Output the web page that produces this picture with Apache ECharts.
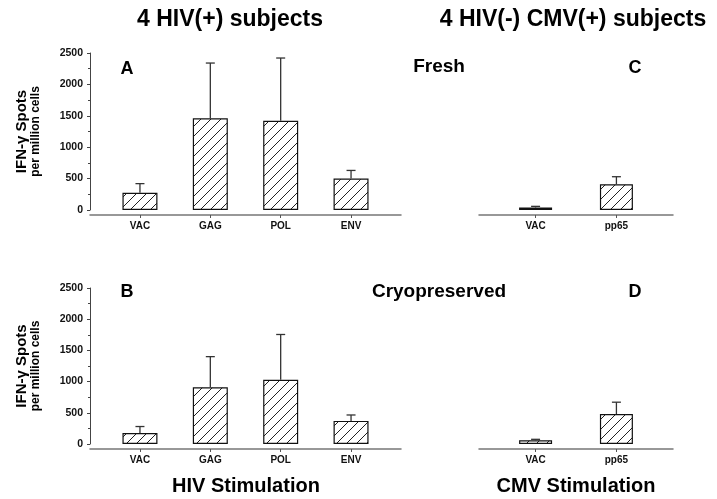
<!DOCTYPE html>
<html>
<head>
<meta charset="utf-8">
<script src="https://cdn.jsdelivr.net/npm/echarts@6/dist/echarts.min.js"></script>
<style>
  html, body { margin: 0; padding: 0; background: #fff; }
  #chart { width: 717px; height: 499px; }
</style>
</head>
<body>
<div id="chart"></div>
<script>
const FONT = '"Liberation Sans", Arial, sans-serif';

const hivCats = ['VAC', 'GAG', 'POL', 'ENV'];
const cmvCats = ['VAC', 'pp65'];
const yTicks = [0, 500, 1000, 1500, 2000, 2500];

// fresh (A, C)
const hivFresh = [275, 1460, 1420, 500];
const hivFreshErr = [420, 2340, 2420, 630];
const cmvFresh = [40, 410];
const cmvFreshErr = [58, 530];

// cryopreserved (B, D)
const hivCryo = [175, 910, 1030, 370];
const hivCryoErr = [280, 1400, 1755, 465];
const cmvCryo = [60, 480];
const cmvCryoErr = [75, 670];

const chart = echarts.init(document.getElementById('chart'));

// diagonal hatch for the bars
function hatch() {
  const c = document.createElement('canvas');
  c.width = 10; c.height = 10;
  const ctx = c.getContext('2d');
  ctx.fillStyle = '#fff';
  ctx.fillRect(0, 0, 10, 10);
  ctx.strokeStyle = '#222';
  ctx.lineWidth = 1;
  ctx.beginPath();
  ctx.moveTo(0, 10); ctx.lineTo(10, 0);
  ctx.moveTo(-1, 1); ctx.lineTo(1, -1);
  ctx.moveTo(9, 11); ctx.lineTo(11, 9);
  ctx.stroke();
  return { image: c, repeat: 'repeat' };
}
const pattern = hatch();

function xAxisFor(gridIndex, cats, pad) {
  const idx = cats.map((c, i) => i);
  return {
    type: 'value', gridIndex,
    min: -pad, max: cats.length - 1 + pad,
    offset: 5,
    axisLine: { show: true, onZero: false, lineStyle: { color: '#777', width: 1.5 } },
    axisTick: { show: true, customValues: idx, length: 3, lineStyle: { color: '#555' } },
    axisLabel: {
      customValues: idx, formatter: v => cats[Math.round(v)],
      fontFamily: FONT, fontWeight: 'bold', fontSize: 10, color: '#111', margin: 6
    },
    splitLine: { show: false }
  };
}

function yAxisFor(gridIndex, visible) {
  return {
    type: 'value', gridIndex, show: visible,
    min: yTicks[0], max: yTicks[yTicks.length - 1], interval: 500,
    axisLine: { show: true, onZero: false, lineStyle: { color: '#444', width: 1 } },
    axisTick: { show: true, length: 3, lineStyle: { color: '#444' } },
    minorTick: { show: true, splitNumber: 2, length: 2, lineStyle: { color: '#444' } },
    axisLabel: {
      formatter: v => String(v),
      fontFamily: FONT, fontWeight: 'bold', fontSize: 10.5, color: '#111', margin: 7
    },
    splitLine: { show: false },
    name: '{a|IFN-γ Spots}\n{b|per million cells}',
    nameLocation: 'middle', nameRotate: 90, nameGap: 48,
    nameTextStyle: {
      rich: {
        a: { fontFamily: FONT, fontWeight: 'bold', fontSize: 15, color: '#000', lineHeight: 15 },
        b: { fontFamily: FONT, fontWeight: 'bold', fontSize: 12, color: '#000', lineHeight: 13 }
      }
    }
  };
}

function bars(idx, vals, width) {
  return {
    type: 'bar', xAxisIndex: idx, yAxisIndex: idx,
    barWidth: width,
    data: vals.map((v, i) => [i, v]),
    itemStyle: { color: pattern, borderColor: '#111', borderWidth: 1.2 },
    silent: true
  };
}

function errors(idx, vals, tops) {
  return {
    type: 'custom', xAxisIndex: idx, yAxisIndex: idx,
    data: vals.map((v, i) => [i, v, tops[i]]),
    encode: { x: 0, y: [1, 2] },
    silent: true, z: 3,
    renderItem: (params, api) => {
      const base = api.coord([api.value(0), api.value(1)]);
      const top = api.coord([api.value(0), api.value(2)]);
      const st = { stroke: '#333', lineWidth: 1.3 };
      return {
        type: 'group',
        children: [
          { type: 'line', shape: { x1: base[0], y1: base[1], x2: top[0], y2: top[1] }, style: st },
          { type: 'line', shape: { x1: top[0] - 4.5, y1: top[1], x2: top[0] + 4.5, y2: top[1] }, style: st }
        ]
      };
    }
  };
}

function label(text, x, y, size) {
  return {
    type: 'text', x, y,
    style: {
      text, fill: '#000',
      font: 'bold ' + size + 'px ' + FONT,
      textAlign: 'center', textVerticalAlign: 'middle',
      align: 'center', verticalAlign: 'middle'
    }
  };
}

chart.setOption({
  animation: false,
  backgroundColor: '#fff',
  grid: [
    { left: 90, top: 53, width: 311, height: 157 },
    { left: 479, top: 53, width: 194, height: 157 },
    { left: 90, top: 288, width: 311, height: 156 },
    { left: 479, top: 288, width: 194, height: 156 }
  ],
  xAxis: [
    xAxisFor(0, hivCats, 0.71),
    xAxisFor(1, cmvCats, 0.7),
    xAxisFor(2, hivCats, 0.71),
    xAxisFor(3, cmvCats, 0.7)
  ],
  yAxis: [
    yAxisFor(0, true),
    yAxisFor(1, false),
    yAxisFor(2, true),
    yAxisFor(3, false)
  ],
  series: [
    bars(0, hivFresh, 35), errors(0, hivFresh, hivFreshErr),
    bars(1, cmvFresh, 33), errors(1, cmvFresh, cmvFreshErr),
    bars(2, hivCryo, 35), errors(2, hivCryo, hivCryoErr),
    bars(3, cmvCryo, 33), errors(3, cmvCryo, cmvCryoErr)
  ],
  graphic: [
    label('4 HIV(+) subjects', 230, 20, 23),
    label('4 HIV(-) CMV(+) subjects', 573, 20, 23),
    label('A', 127, 69, 18),
    label('Fresh', 439, 67, 19),
    label('C', 635, 68, 18),
    label('B', 127, 292, 18),
    label('Cryopreserved', 439, 292, 19),
    label('D', 635, 292, 18),
    label('HIV Stimulation', 246, 486, 20),
    label('CMV Stimulation', 576, 486, 20)
  ]
});
</script>
</body>
</html>
